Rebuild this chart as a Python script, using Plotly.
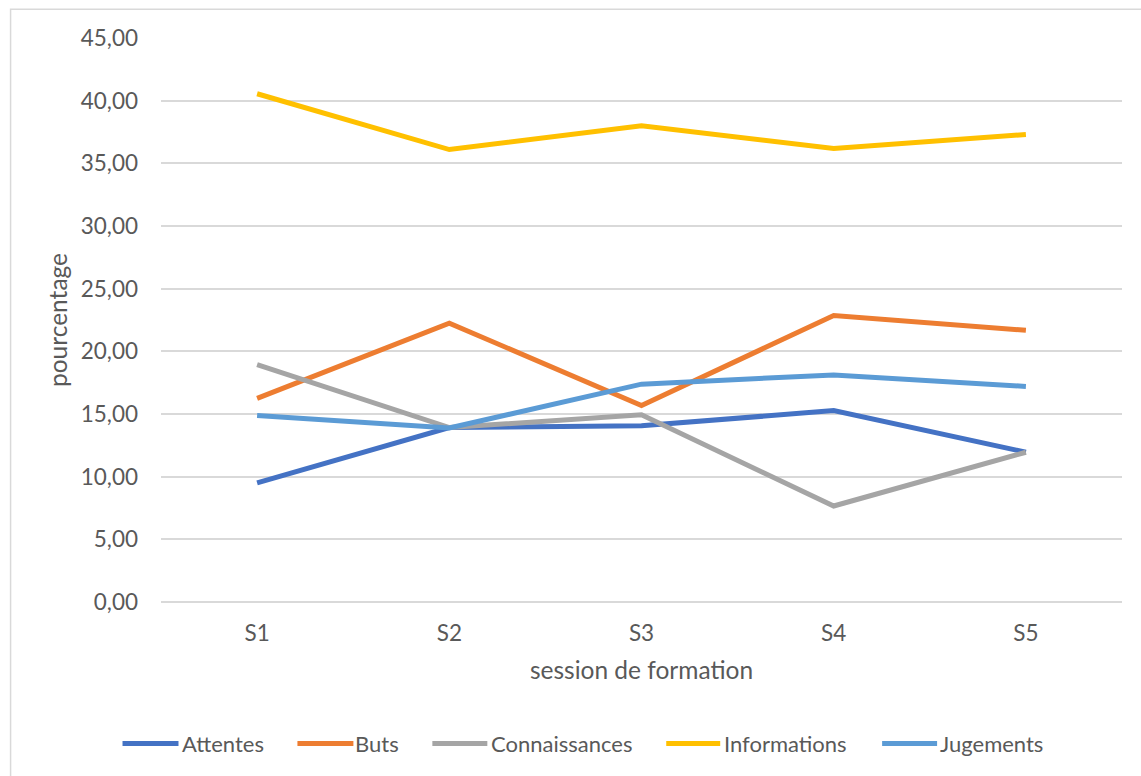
import plotly.graph_objects as go

sessions = ["S1", "S2", "S3", "S4", "S5"]
attentes = [9.50, 13.92, 14.06, 15.27, 11.95]
buts = [16.25, 22.25, 15.68, 22.86, 21.68]
connaissances = [18.94, 13.92, 14.94, 7.66, 11.95]
informations = [40.55, 36.10, 38.00, 36.18, 37.30]
jugements = [14.88, 13.88, 17.38, 18.12, 17.20]

series = [
    ("Attentes", attentes, "#4472C4"),
    ("Buts", buts, "#ED7D31"),
    ("Connaissances", connaissances, "#A5A5A5"),
    ("Informations", informations, "#FFC000"),
    ("Jugements", jugements, "#5B9BD5"),
]

FONT = "Lato"
TXT = "#595959"
FS_TICK = 22.5
FS_TITLE = 24.5
FS_LEG = 22

fig = go.Figure()
for name, vals, col in series:
    fig.add_trace(go.Scatter(x=sessions, y=vals, name=name, mode="lines",
                             line=dict(color=col, width=5), showlegend=False))

L, R, T, B = 160.5, 19, 38.3, 174.3
W, H = 1141, 776
pw = W - L - R
ph = H - T - B

def px_x(p):
    return (p - L) / pw

def px_y(p):
    return (H - B - p) / ph

fig.update_layout(
    width=W, height=H,
    margin=dict(l=L, r=R, t=T, b=B, pad=0),
    paper_bgcolor="white", plot_bgcolor="white",
    font=dict(family=FONT, size=FS_TICK, color=TXT),
    showlegend=False,
    xaxis=dict(
        range=[-0.5, 4.5],
        showgrid=False, showline=False, zeroline=False,
        ticks="", ticklabelstandoff=15,
        tickfont=dict(family=FONT, size=FS_TICK, color=TXT),
        title=dict(text="session de formation", standoff=17,
                   font=dict(family=FONT, size=FS_TITLE, color=TXT)),
    ),
    yaxis=dict(
        range=[0, 45], dtick=5, tickformat=".2f",
        showgrid=True, gridcolor="#D9D9D9", gridwidth=1.5,
        zeroline=True, zerolinecolor="#D9D9D9", zerolinewidth=1.5,
        showline=False, ticks="", ticklabelstandoff=22,
        tickfont=dict(family=FONT, size=FS_TICK, color=TXT),
        title=dict(text="pourcentage", standoff=6,
                   font=dict(family=FONT, size=FS_TITLE, color=TXT)),
    ),
    separators=", ",
)

# chart-area border
fig.add_shape(type="rect", xref="paper", yref="paper",
              x0=px_x(10), x1=px_x(1160), y0=px_y(800), y1=px_y(9.5),
              line=dict(color="#D9D9D9", width=1.5), fillcolor="rgba(0,0,0,0)",
              layer="below")

# legend (Excel style: long line swatches)
legend_pos = [(122, 178, 180), (297, 353, 353), (432, 487, 489),
              (666, 720, 722), (882, 937, 938)]
ly = px_y(743)
for (name, vals, col), (a, b, t) in zip(series, legend_pos):
    fig.add_shape(type="line", xref="paper", yref="paper",
                  x0=px_x(a), x1=px_x(b), y0=ly, y1=ly,
                  line=dict(color=col, width=5))
    fig.add_annotation(xref="paper", yref="paper", x=px_x(t), y=ly,
                       text=name, showarrow=False, xanchor="left", yanchor="middle",
                       font=dict(family=FONT, size=FS_LEG, color=TXT))

fig.write_html("out.html", config={"displayModeBar": False},
               post_script="document.body.style.margin='0';")
